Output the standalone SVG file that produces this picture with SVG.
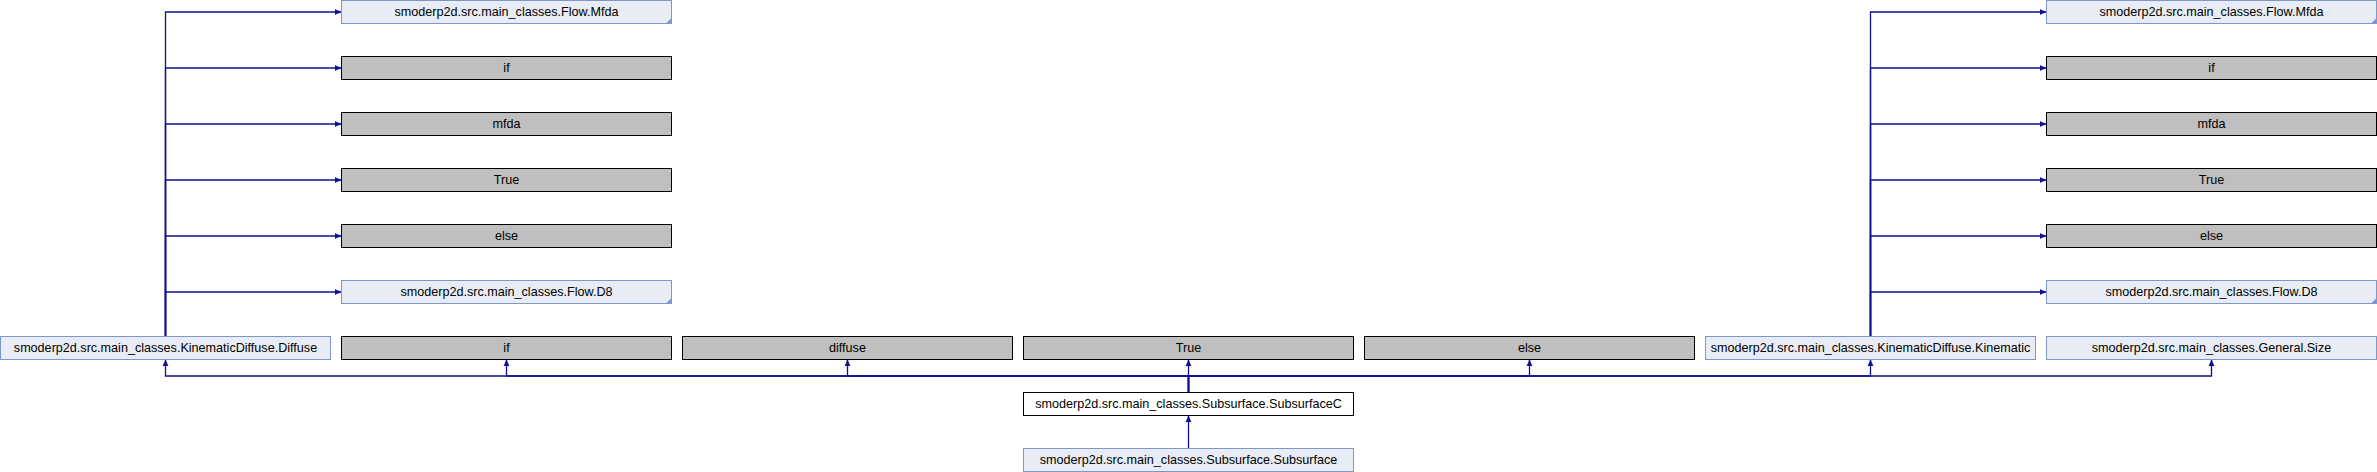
<svg xmlns="http://www.w3.org/2000/svg" width="2377" height="472" viewBox="0 0 2377 472">
<style>
.b rect{fill:#e8ecf5;stroke:#7f96cb;stroke-width:1}
.g rect{fill:#bfbfbf;stroke:#000;stroke-width:1}
.w rect{fill:#fff;stroke:#000;stroke-width:1}
.fold{fill:#7f96cb}
text{font-family:"Liberation Sans",Arial,sans-serif;font-size:12.6px;fill:#000;text-anchor:middle}
.e path{fill:none;stroke:#10108f;stroke-width:1.3;marker-end:url(#ah)}
</style>
<defs>
<marker id="ah" markerUnits="userSpaceOnUse" markerWidth="7" markerHeight="7" refX="6" refY="3" orient="auto" viewBox="0 0 7 6">
<path d="M0,0.4 L6,3 L0,5.6 z" fill="#10108f" stroke="#10108f" stroke-width="0.5"/>
</marker>
</defs>
<rect width="2377" height="472" fill="#fff"/>
<g class="e" id="connectors">
<path d="M1188.5,448.5 V416"/>
<path d="M1188.5,392.5 V376 H165.5 V360"/>
<path d="M1188.5,392.5 V376 H506.5 V360"/>
<path d="M1188.5,392.5 V376 H847.5 V360"/>
<path d="M1188.5,392.5 V360"/>
<path d="M1188.5,392.5 V376 H1529.5 V360"/>
<path d="M1188.5,392.5 V376 H1870.5 V360"/>
<path d="M1188.5,392.5 V376 H2211.5 V360"/>
<path d="M165.5,336.5 V12 H341"/>
<path d="M165.5,336.5 V68 H341"/>
<path d="M165.5,336.5 V124 H341"/>
<path d="M165.5,336.5 V180 H341"/>
<path d="M165.5,336.5 V236 H341"/>
<path d="M165.5,336.5 V292 H341"/>
<path d="M1870.5,336.5 V12 H2046"/>
<path d="M1870.5,336.5 V68 H2046"/>
<path d="M1870.5,336.5 V124 H2046"/>
<path d="M1870.5,336.5 V180 H2046"/>
<path d="M1870.5,336.5 V236 H2046"/>
<path d="M1870.5,336.5 V292 H2046"/>
</g>
<g id="n_l_mfda" class="b"><rect x="341.5" y="0.5" width="330" height="23"/><path class="fold" d="M671.5,18 V23.5 H666 z"/><text x="506.5" y="15.8">smoderp2d.src.main_classes.Flow.Mfda</text></g>
<g id="n_l_if" class="g"><rect x="341.5" y="56.5" width="330" height="23"/><text x="506.5" y="71.8">if</text></g>
<g id="n_l_mfda2" class="g"><rect x="341.5" y="112.5" width="330" height="23"/><text x="506.5" y="127.8">mfda</text></g>
<g id="n_l_true" class="g"><rect x="341.5" y="168.5" width="330" height="23"/><text x="506.5" y="183.8">True</text></g>
<g id="n_l_else" class="g"><rect x="341.5" y="224.5" width="330" height="23"/><text x="506.5" y="239.8">else</text></g>
<g id="n_l_d8" class="b"><rect x="341.5" y="280.5" width="330" height="23"/><path class="fold" d="M671.5,298 V303.5 H666 z"/><text x="506.5" y="295.8">smoderp2d.src.main_classes.Flow.D8</text></g>
<g id="n_r_mfda" class="b"><rect x="2046.5" y="0.5" width="330" height="23"/><path class="fold" d="M2376.5,18 V23.5 H2371 z"/><text x="2211.5" y="15.8">smoderp2d.src.main_classes.Flow.Mfda</text></g>
<g id="n_r_if" class="g"><rect x="2046.5" y="56.5" width="330" height="23"/><text x="2211.5" y="71.8">if</text></g>
<g id="n_r_mfda2" class="g"><rect x="2046.5" y="112.5" width="330" height="23"/><text x="2211.5" y="127.8">mfda</text></g>
<g id="n_r_true" class="g"><rect x="2046.5" y="168.5" width="330" height="23"/><text x="2211.5" y="183.8">True</text></g>
<g id="n_r_else" class="g"><rect x="2046.5" y="224.5" width="330" height="23"/><text x="2211.5" y="239.8">else</text></g>
<g id="n_r_d8" class="b"><rect x="2046.5" y="280.5" width="330" height="23"/><path class="fold" d="M2376.5,298 V303.5 H2371 z"/><text x="2211.5" y="295.8">smoderp2d.src.main_classes.Flow.D8</text></g>
<g id="n_diffuse_cls" class="b"><rect x="0.5" y="336.5" width="330" height="23"/><text x="165.5" y="351.8">smoderp2d.src.main_classes.KinematicDiffuse.Diffuse</text></g>
<g id="n_if" class="g"><rect x="341.5" y="336.5" width="330" height="23"/><text x="506.5" y="351.8">if</text></g>
<g id="n_diffuse" class="g"><rect x="682.5" y="336.5" width="330" height="23"/><text x="847.5" y="351.8">diffuse</text></g>
<g id="n_true" class="g"><rect x="1023.5" y="336.5" width="330" height="23"/><text x="1188.5" y="351.8">True</text></g>
<g id="n_else" class="g"><rect x="1364.5" y="336.5" width="330" height="23"/><text x="1529.5" y="351.8">else</text></g>
<g id="n_kinematic" class="b"><rect x="1705.5" y="336.5" width="330" height="23"/><text x="1870.5" y="351.8">smoderp2d.src.main_classes.KinematicDiffuse.Kinematic</text></g>
<g id="n_size" class="b"><rect x="2046.5" y="336.5" width="330" height="23"/><text x="2211.5" y="351.8">smoderp2d.src.main_classes.General.Size</text></g>
<g id="n_subsurfacec" class="w"><rect x="1023.5" y="392.5" width="330" height="23"/><text x="1188.5" y="407.8">smoderp2d.src.main_classes.Subsurface.SubsurfaceC</text></g>
<g id="n_subsurface" class="b"><rect x="1023.5" y="448.5" width="330" height="23"/><text x="1188.5" y="463.8">smoderp2d.src.main_classes.Subsurface.Subsurface</text></g>
</svg>
